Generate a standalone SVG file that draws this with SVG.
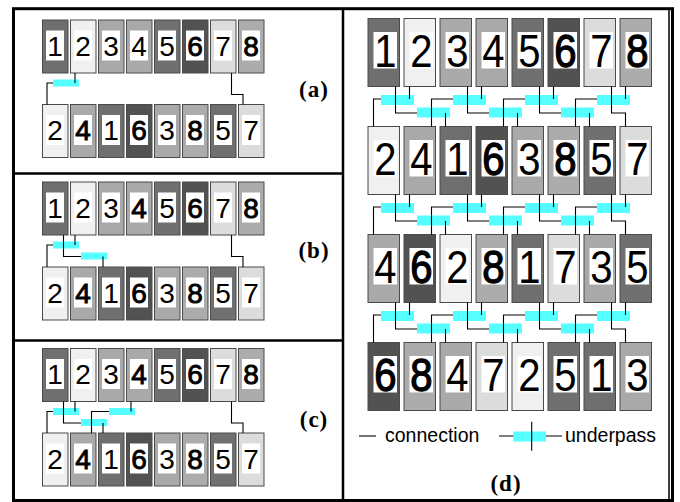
<svg xmlns="http://www.w3.org/2000/svg" width="680" height="502" viewBox="0 0 680 502">
<style>
.tile{stroke:#4a4a4a;stroke-width:1}
.k1{fill:#6f6f6f}.k2{fill:#f0f0f0}.k3{fill:#a9a9a9}.k4{fill:#a9a9a9}
.k5{fill:#707070}.k6{fill:#525252}.k7{fill:#dcdcdc}.k8{fill:#acacac}
.wb{fill:#ffffff}
.ds{font-family:"Liberation Sans",Arial,sans-serif;font-size:28px;text-anchor:middle;fill:#000}
.dl{font-family:"Liberation Sans",Arial,sans-serif;font-size:46px;text-anchor:middle;fill:#000}
.ds.b{stroke:#000;stroke-width:0.9}
.dl.b{stroke:#000;stroke-width:1.3}
.cn{fill:none;stroke:#000;stroke-width:1.1}
.cy{fill:#55ffff}
.lab{font-family:"Liberation Serif","Times New Roman",serif;font-weight:bold;font-size:23px;text-anchor:middle;letter-spacing:1px}
.leg{font-family:"Liberation Sans",Arial,sans-serif;font-size:19.5px;fill:#000}
.frame{fill:none;stroke:#000}
</style>

<g id="frame">
<rect class="frame" x="13.5" y="8.7" width="659" height="491.8" stroke-width="3"/>
<line class="frame" x1="669" y1="10" x2="669" y2="499" stroke-width="1.5"/>
<line class="frame" x1="343" y1="8.7" x2="343" y2="500.5" stroke-width="2.5"/>
<line class="frame" x1="13.5" y1="173.5" x2="343" y2="173.5" stroke-width="2.5"/>
<line class="frame" x1="13.5" y1="340.5" x2="343" y2="340.5" stroke-width="2.5"/>
</g>

<!-- panel (a) -->
<g id="a-top-1"><rect class="tile k1" x="42.5" y="20" width="25.5" height="53"/><rect class="wb" x="46" y="30.5" width="18" height="30"/><text class="ds" x="55" y="55.5">1</text></g>
<g id="a-top-2"><rect class="tile k2" x="70.5" y="20" width="25.5" height="53"/><rect class="wb" x="74" y="30.5" width="18" height="30"/><text class="ds" x="83" y="55.5">2</text></g>
<g id="a-top-3"><rect class="tile k3" x="98.5" y="20" width="25.5" height="53"/><rect class="wb" x="102" y="30.5" width="18" height="30"/><text class="ds" x="111" y="55.5">3</text></g>
<g id="a-top-4"><rect class="tile k4" x="126.5" y="20" width="25.5" height="53"/><rect class="wb" x="130" y="30.5" width="18" height="30"/><text class="ds" x="139" y="55.5">4</text></g>
<g id="a-top-5"><rect class="tile k5" x="154.5" y="20" width="25.5" height="53"/><rect class="wb" x="158" y="30.5" width="18" height="30"/><text class="ds" x="167" y="55.5">5</text></g>
<g id="a-top-6"><rect class="tile k6" x="182.5" y="20" width="25.5" height="53"/><rect class="wb" x="186" y="30.5" width="18" height="30"/><text class="ds b" x="195" y="55.5">6</text></g>
<g id="a-top-7"><rect class="tile k7" x="210.5" y="20" width="25.5" height="53"/><rect class="wb" x="214" y="30.5" width="18" height="30"/><text class="ds" x="223" y="55.5">7</text></g>
<g id="a-top-8"><rect class="tile k8" x="238.5" y="20" width="25.5" height="53"/><rect class="wb" x="242" y="30.5" width="18" height="30"/><text class="ds b" x="251" y="55.5">8</text></g>

<g id="a-bot-2"><rect class="tile k2" x="42.5" y="104.5" width="25.5" height="53"/><rect class="wb" x="46" y="115" width="18" height="30"/><text class="ds" x="55" y="140">2</text></g>
<g id="a-bot-4"><rect class="tile k4" x="70.5" y="104.5" width="25.5" height="53"/><rect class="wb" x="74" y="115" width="18" height="30"/><text class="ds b" x="83" y="140">4</text></g>
<g id="a-bot-1"><rect class="tile k1" x="98.5" y="104.5" width="25.5" height="53"/><rect class="wb" x="102" y="115" width="18" height="30"/><text class="ds" x="111" y="140">1</text></g>
<g id="a-bot-6"><rect class="tile k6" x="126.5" y="104.5" width="25.5" height="53"/><rect class="wb" x="130" y="115" width="18" height="30"/><text class="ds b" x="139" y="140">6</text></g>
<g id="a-bot-3"><rect class="tile k3" x="154.5" y="104.5" width="25.5" height="53"/><rect class="wb" x="158" y="115" width="18" height="30"/><text class="ds" x="167" y="140">3</text></g>
<g id="a-bot-8"><rect class="tile k8" x="182.5" y="104.5" width="25.5" height="53"/><rect class="wb" x="186" y="115" width="18" height="30"/><text class="ds b" x="195" y="140">8</text></g>
<g id="a-bot-5"><rect class="tile k5" x="210.5" y="104.5" width="25.5" height="53"/><rect class="wb" x="214" y="115" width="18" height="30"/><text class="ds" x="223" y="140">5</text></g>
<g id="a-bot-7"><rect class="tile k7" x="238.5" y="104.5" width="25.5" height="53"/><rect class="wb" x="242" y="115" width="18" height="30"/><text class="ds" x="251" y="140">7</text></g>
<text id="label-a" class="lab" x="314" y="97">(a)</text>

<!-- panel (b) -->
<g id="b-top-1"><rect class="tile k1" x="42.5" y="182" width="25.5" height="53"/><rect class="wb" x="46" y="192.5" width="18" height="30"/><text class="ds" x="55" y="217.5">1</text></g>
<g id="b-top-2"><rect class="tile k2" x="70.5" y="182" width="25.5" height="53"/><rect class="wb" x="74" y="192.5" width="18" height="30"/><text class="ds" x="83" y="217.5">2</text></g>
<g id="b-top-3"><rect class="tile k3" x="98.5" y="182" width="25.5" height="53"/><rect class="wb" x="102" y="192.5" width="18" height="30"/><text class="ds" x="111" y="217.5">3</text></g>
<g id="b-top-4"><rect class="tile k4" x="126.5" y="182" width="25.5" height="53"/><rect class="wb" x="130" y="192.5" width="18" height="30"/><text class="ds b" x="139" y="217.5">4</text></g>
<g id="b-top-5"><rect class="tile k5" x="154.5" y="182" width="25.5" height="53"/><rect class="wb" x="158" y="192.5" width="18" height="30"/><text class="ds" x="167" y="217.5">5</text></g>
<g id="b-top-6"><rect class="tile k6" x="182.5" y="182" width="25.5" height="53"/><rect class="wb" x="186" y="192.5" width="18" height="30"/><text class="ds b" x="195" y="217.5">6</text></g>
<g id="b-top-7"><rect class="tile k7" x="210.5" y="182" width="25.5" height="53"/><rect class="wb" x="214" y="192.5" width="18" height="30"/><text class="ds" x="223" y="217.5">7</text></g>
<g id="b-top-8"><rect class="tile k8" x="238.5" y="182" width="25.5" height="53"/><rect class="wb" x="242" y="192.5" width="18" height="30"/><text class="ds b" x="251" y="217.5">8</text></g>

<g id="b-bot-2"><rect class="tile k2" x="42.5" y="267" width="25.5" height="53"/><rect class="wb" x="46" y="277.5" width="18" height="30"/><text class="ds" x="55" y="302.5">2</text></g>
<g id="b-bot-4"><rect class="tile k4" x="70.5" y="267" width="25.5" height="53"/><rect class="wb" x="74" y="277.5" width="18" height="30"/><text class="ds b" x="83" y="302.5">4</text></g>
<g id="b-bot-1"><rect class="tile k1" x="98.5" y="267" width="25.5" height="53"/><rect class="wb" x="102" y="277.5" width="18" height="30"/><text class="ds" x="111" y="302.5">1</text></g>
<g id="b-bot-6"><rect class="tile k6" x="126.5" y="267" width="25.5" height="53"/><rect class="wb" x="130" y="277.5" width="18" height="30"/><text class="ds b" x="139" y="302.5">6</text></g>
<g id="b-bot-3"><rect class="tile k3" x="154.5" y="267" width="25.5" height="53"/><rect class="wb" x="158" y="277.5" width="18" height="30"/><text class="ds" x="167" y="302.5">3</text></g>
<g id="b-bot-8"><rect class="tile k8" x="182.5" y="267" width="25.5" height="53"/><rect class="wb" x="186" y="277.5" width="18" height="30"/><text class="ds b" x="195" y="302.5">8</text></g>
<g id="b-bot-5"><rect class="tile k5" x="210.5" y="267" width="25.5" height="53"/><rect class="wb" x="214" y="277.5" width="18" height="30"/><text class="ds" x="223" y="302.5">5</text></g>
<g id="b-bot-7"><rect class="tile k7" x="238.5" y="267" width="25.5" height="53"/><rect class="wb" x="242" y="277.5" width="18" height="30"/><text class="ds" x="251" y="302.5">7</text></g>
<text id="label-b" class="lab" x="314" y="258">(b)</text>

<!-- panel (c) -->
<g id="c-top-1"><rect class="tile k1" x="42.5" y="348.5" width="25.5" height="53"/><rect class="wb" x="46" y="359" width="18" height="30"/><text class="ds" x="55" y="384">1</text></g>
<g id="c-top-2"><rect class="tile k2" x="70.5" y="348.5" width="25.5" height="53"/><rect class="wb" x="74" y="359" width="18" height="30"/><text class="ds" x="83" y="384">2</text></g>
<g id="c-top-3"><rect class="tile k3" x="98.5" y="348.5" width="25.5" height="53"/><rect class="wb" x="102" y="359" width="18" height="30"/><text class="ds" x="111" y="384">3</text></g>
<g id="c-top-4"><rect class="tile k4" x="126.5" y="348.5" width="25.5" height="53"/><rect class="wb" x="130" y="359" width="18" height="30"/><text class="ds b" x="139" y="384">4</text></g>
<g id="c-top-5"><rect class="tile k5" x="154.5" y="348.5" width="25.5" height="53"/><rect class="wb" x="158" y="359" width="18" height="30"/><text class="ds" x="167" y="384">5</text></g>
<g id="c-top-6"><rect class="tile k6" x="182.5" y="348.5" width="25.5" height="53"/><rect class="wb" x="186" y="359" width="18" height="30"/><text class="ds b" x="195" y="384">6</text></g>
<g id="c-top-7"><rect class="tile k7" x="210.5" y="348.5" width="25.5" height="53"/><rect class="wb" x="214" y="359" width="18" height="30"/><text class="ds" x="223" y="384">7</text></g>
<g id="c-top-8"><rect class="tile k8" x="238.5" y="348.5" width="25.5" height="53"/><rect class="wb" x="242" y="359" width="18" height="30"/><text class="ds b" x="251" y="384">8</text></g>

<g id="c-bot-2"><rect class="tile k2" x="42.5" y="433" width="25.5" height="53"/><rect class="wb" x="46" y="443.5" width="18" height="30"/><text class="ds" x="55" y="468.5">2</text></g>
<g id="c-bot-4"><rect class="tile k4" x="70.5" y="433" width="25.5" height="53"/><rect class="wb" x="74" y="443.5" width="18" height="30"/><text class="ds b" x="83" y="468.5">4</text></g>
<g id="c-bot-1"><rect class="tile k1" x="98.5" y="433" width="25.5" height="53"/><rect class="wb" x="102" y="443.5" width="18" height="30"/><text class="ds" x="111" y="468.5">1</text></g>
<g id="c-bot-6"><rect class="tile k6" x="126.5" y="433" width="25.5" height="53"/><rect class="wb" x="130" y="443.5" width="18" height="30"/><text class="ds b" x="139" y="468.5">6</text></g>
<g id="c-bot-3"><rect class="tile k3" x="154.5" y="433" width="25.5" height="53"/><rect class="wb" x="158" y="443.5" width="18" height="30"/><text class="ds" x="167" y="468.5">3</text></g>
<g id="c-bot-8"><rect class="tile k8" x="182.5" y="433" width="25.5" height="53"/><rect class="wb" x="186" y="443.5" width="18" height="30"/><text class="ds b" x="195" y="468.5">8</text></g>
<g id="c-bot-5"><rect class="tile k5" x="210.5" y="433" width="25.5" height="53"/><rect class="wb" x="214" y="443.5" width="18" height="30"/><text class="ds" x="223" y="468.5">5</text></g>
<g id="c-bot-7"><rect class="tile k7" x="238.5" y="433" width="25.5" height="53"/><rect class="wb" x="242" y="443.5" width="18" height="30"/><text class="ds" x="251" y="468.5">7</text></g>
<text id="label-c" class="lab" x="314" y="427">(c)</text>

<!-- panel (d) -->
<g id="d-r0-1"><rect class="tile k1" x="368" y="18.5" width="31.5" height="68"/><rect class="wb" x="373.5" y="32" width="23.5" height="36.5"/><text class="dl" transform="translate(385.25 66.5) scale(0.87 1)">1</text></g>
<g id="d-r0-2"><rect class="tile k2" x="404" y="18.5" width="31.5" height="68"/><rect class="wb" x="409.5" y="32" width="23.5" height="36.5"/><text class="dl" transform="translate(421.25 66.5) scale(0.87 1)">2</text></g>
<g id="d-r0-3"><rect class="tile k3" x="440" y="18.5" width="31.5" height="68"/><rect class="wb" x="445.5" y="32" width="23.5" height="36.5"/><text class="dl" transform="translate(457.25 66.5) scale(0.87 1)">3</text></g>
<g id="d-r0-4"><rect class="tile k4" x="476" y="18.5" width="31.5" height="68"/><rect class="wb" x="481.5" y="32" width="23.5" height="36.5"/><text class="dl" transform="translate(493.25 66.5) scale(0.87 1)">4</text></g>
<g id="d-r0-5"><rect class="tile k5" x="512" y="18.5" width="31.5" height="68"/><rect class="wb" x="517.5" y="32" width="23.5" height="36.5"/><text class="dl" transform="translate(529.25 66.5) scale(0.87 1)">5</text></g>
<g id="d-r0-6"><rect class="tile k6" x="548" y="18.5" width="31.5" height="68"/><rect class="wb" x="553.5" y="32" width="23.5" height="36.5"/><text class="dl b" transform="translate(565.25 66.5) scale(0.87 1)">6</text></g>
<g id="d-r0-7"><rect class="tile k7" x="584" y="18.5" width="31.5" height="68"/><rect class="wb" x="589.5" y="32" width="23.5" height="36.5"/><text class="dl" transform="translate(601.25 66.5) scale(0.87 1)">7</text></g>
<g id="d-r0-8"><rect class="tile k8" x="620" y="18.5" width="31.5" height="68"/><rect class="wb" x="625.5" y="32" width="23.5" height="36.5"/><text class="dl b" transform="translate(637.25 66.5) scale(0.87 1)">8</text></g>

<g id="d-r1-2"><rect class="tile k2" x="368" y="126.5" width="31.5" height="68"/><rect class="wb" x="373.5" y="140" width="23.5" height="36.5"/><text class="dl" transform="translate(385.25 174.5) scale(0.87 1)">2</text></g>
<g id="d-r1-4"><rect class="tile k4" x="404" y="126.5" width="31.5" height="68"/><rect class="wb" x="409.5" y="140" width="23.5" height="36.5"/><text class="dl" transform="translate(421.25 174.5) scale(0.87 1)">4</text></g>
<g id="d-r1-1"><rect class="tile k1" x="440" y="126.5" width="31.5" height="68"/><rect class="wb" x="445.5" y="140" width="23.5" height="36.5"/><text class="dl" transform="translate(457.25 174.5) scale(0.87 1)">1</text></g>
<g id="d-r1-6"><rect class="tile k6" x="476" y="126.5" width="31.5" height="68"/><rect class="wb" x="481.5" y="140" width="23.5" height="36.5"/><text class="dl b" transform="translate(493.25 174.5) scale(0.87 1)">6</text></g>
<g id="d-r1-3"><rect class="tile k3" x="512" y="126.5" width="31.5" height="68"/><rect class="wb" x="517.5" y="140" width="23.5" height="36.5"/><text class="dl" transform="translate(529.25 174.5) scale(0.87 1)">3</text></g>
<g id="d-r1-8"><rect class="tile k8" x="548" y="126.5" width="31.5" height="68"/><rect class="wb" x="553.5" y="140" width="23.5" height="36.5"/><text class="dl b" transform="translate(565.25 174.5) scale(0.87 1)">8</text></g>
<g id="d-r1-5"><rect class="tile k5" x="584" y="126.5" width="31.5" height="68"/><rect class="wb" x="589.5" y="140" width="23.5" height="36.5"/><text class="dl" transform="translate(601.25 174.5) scale(0.87 1)">5</text></g>
<g id="d-r1-7"><rect class="tile k7" x="620" y="126.5" width="31.5" height="68"/><rect class="wb" x="625.5" y="140" width="23.5" height="36.5"/><text class="dl" transform="translate(637.25 174.5) scale(0.87 1)">7</text></g>

<g id="d-r2-4"><rect class="tile k4" x="368" y="234.5" width="31.5" height="68"/><rect class="wb" x="373.5" y="248" width="23.5" height="36.5"/><text class="dl" transform="translate(385.25 282.5) scale(0.87 1)">4</text></g>
<g id="d-r2-6"><rect class="tile k6" x="404" y="234.5" width="31.5" height="68"/><rect class="wb" x="409.5" y="248" width="23.5" height="36.5"/><text class="dl b" transform="translate(421.25 282.5) scale(0.87 1)">6</text></g>
<g id="d-r2-2"><rect class="tile k2" x="440" y="234.5" width="31.5" height="68"/><rect class="wb" x="445.5" y="248" width="23.5" height="36.5"/><text class="dl" transform="translate(457.25 282.5) scale(0.87 1)">2</text></g>
<g id="d-r2-8"><rect class="tile k8" x="476" y="234.5" width="31.5" height="68"/><rect class="wb" x="481.5" y="248" width="23.5" height="36.5"/><text class="dl b" transform="translate(493.25 282.5) scale(0.87 1)">8</text></g>
<g id="d-r2-1"><rect class="tile k1" x="512" y="234.5" width="31.5" height="68"/><rect class="wb" x="517.5" y="248" width="23.5" height="36.5"/><text class="dl" transform="translate(529.25 282.5) scale(0.87 1)">1</text></g>
<g id="d-r2-7"><rect class="tile k7" x="548" y="234.5" width="31.5" height="68"/><rect class="wb" x="553.5" y="248" width="23.5" height="36.5"/><text class="dl" transform="translate(565.25 282.5) scale(0.87 1)">7</text></g>
<g id="d-r2-3"><rect class="tile k3" x="584" y="234.5" width="31.5" height="68"/><rect class="wb" x="589.5" y="248" width="23.5" height="36.5"/><text class="dl" transform="translate(601.25 282.5) scale(0.87 1)">3</text></g>
<g id="d-r2-5"><rect class="tile k5" x="620" y="234.5" width="31.5" height="68"/><rect class="wb" x="625.5" y="248" width="23.5" height="36.5"/><text class="dl" transform="translate(637.25 282.5) scale(0.87 1)">5</text></g>

<g id="d-r3-6"><rect class="tile k6" x="368" y="342.5" width="31.5" height="68"/><rect class="wb" x="373.5" y="356" width="23.5" height="36.5"/><text class="dl b" transform="translate(385.25 390.5) scale(0.87 1)">6</text></g>
<g id="d-r3-8"><rect class="tile k8" x="404" y="342.5" width="31.5" height="68"/><rect class="wb" x="409.5" y="356" width="23.5" height="36.5"/><text class="dl b" transform="translate(421.25 390.5) scale(0.87 1)">8</text></g>
<g id="d-r3-4"><rect class="tile k4" x="440" y="342.5" width="31.5" height="68"/><rect class="wb" x="445.5" y="356" width="23.5" height="36.5"/><text class="dl" transform="translate(457.25 390.5) scale(0.87 1)">4</text></g>
<g id="d-r3-7"><rect class="tile k7" x="476" y="342.5" width="31.5" height="68"/><rect class="wb" x="481.5" y="356" width="23.5" height="36.5"/><text class="dl" transform="translate(493.25 390.5) scale(0.87 1)">7</text></g>
<g id="d-r3-2"><rect class="tile k2" x="512" y="342.5" width="31.5" height="68"/><rect class="wb" x="517.5" y="356" width="23.5" height="36.5"/><text class="dl" transform="translate(529.25 390.5) scale(0.87 1)">2</text></g>
<g id="d-r3-5"><rect class="tile k5" x="548" y="342.5" width="31.5" height="68"/><rect class="wb" x="553.5" y="356" width="23.5" height="36.5"/><text class="dl" transform="translate(565.25 390.5) scale(0.87 1)">5</text></g>
<g id="d-r3-1"><rect class="tile k1" x="584" y="342.5" width="31.5" height="68"/><rect class="wb" x="589.5" y="356" width="23.5" height="36.5"/><text class="dl" transform="translate(601.25 390.5) scale(0.87 1)">1</text></g>
<g id="d-r3-3"><rect class="tile k3" x="620" y="342.5" width="31.5" height="68"/><rect class="wb" x="625.5" y="356" width="23.5" height="36.5"/><text class="dl" transform="translate(637.25 390.5) scale(0.87 1)">3</text></g>
<text id="label-d" class="lab" x="506" y="491">(d)</text>

<!-- connectors -->
<g id="connectors">
<path class="cn" d="M75 73V83H47V104.5 M231.5 73V94.5H243V104.5"/>
<path class="cn" d="M75 235V245H47V267 M63.5 235V256.5H103V267 M231.5 235V256.5H243V267"/>
<path class="cn" d="M75 401.5V411.5H47V433 M63.5 401.5V423H103V433 M131 401.5V411.5H91.5V433 M231.5 401.5V423H243V433"/>
<path class="cn" d="M395.5 86.5V113H445.5V126.5 M409.5 86.5V99H373.5V126.5 M467.5 86.5V113H517.5V126.5 M481.5 86.5V99H431.5V126.5 M539.5 86.5V113H589.5V126.5 M553.5 86.5V99H503.5V126.5 M611.5 86.5V113H625.5V126.5 M625.5 86.5V99H575.5V126.5"/>
<path class="cn" d="M395.5 194.5V221H445.5V234.5 M409.5 194.5V207H373.5V234.5 M467.5 194.5V221H517.5V234.5 M481.5 194.5V207H431.5V234.5 M539.5 194.5V221H589.5V234.5 M553.5 194.5V207H503.5V234.5 M611.5 194.5V221H625.5V234.5 M625.5 194.5V207H575.5V234.5"/>
<path class="cn" d="M395.5 302.5V329H445.5V342.5 M409.5 302.5V315H373.5V342.5 M467.5 302.5V329H517.5V342.5 M481.5 302.5V315H431.5V342.5 M539.5 302.5V329H589.5V342.5 M553.5 302.5V315H503.5V342.5 M611.5 302.5V329H625.5V342.5 M625.5 302.5V315H575.5V342.5"/>
</g>

<!-- underpasses -->
<g id="underpasses">
<rect class="cy" x="53" y="79.5" width="26" height="7"/>
<path class="cn" d="M75 79.5V83"/>
<rect class="cy" x="53" y="241.5" width="26" height="7"/>
<rect class="cy" x="81" y="252.5" width="26" height="7"/>
<path class="cn" d="M63.5 241.5V248.5 M75 241.5V245 M103 256.5V259.5"/>
<rect class="cy" x="53" y="408" width="26" height="7"/>
<rect class="cy" x="109" y="408" width="26" height="7"/>
<rect class="cy" x="81" y="419" width="26" height="7"/>
<path class="cn" d="M63.5 408V415 M75 408V411.5 M131 408V411.5 M91.5 419V426 M103 423V426"/>

<rect class="cy" x="381" y="95" width="33" height="10"/><rect class="cy" x="453" y="95" width="33" height="10"/><rect class="cy" x="525" y="95" width="33" height="10"/><rect class="cy" x="597" y="95" width="33" height="10"/>
<rect class="cy" x="417" y="107.5" width="33" height="10"/><rect class="cy" x="489" y="107.5" width="33" height="10"/><rect class="cy" x="561" y="107.5" width="33" height="10"/>
<path class="cn" d="M395.5 95V105 M467.5 95V105 M539.5 95V105 M611.5 95V105 M409.5 95V99 M481.5 95V99 M553.5 95V99 M625.5 95V99 M431.5 107.5V117.5 M503.5 107.5V117.5 M575.5 107.5V117.5 M445.5 113V117.5 M517.5 113V117.5 M589.5 113V117.5"/>

<rect class="cy" x="381" y="203" width="33" height="10"/><rect class="cy" x="453" y="203" width="33" height="10"/><rect class="cy" x="525" y="203" width="33" height="10"/><rect class="cy" x="597" y="203" width="33" height="10"/>
<rect class="cy" x="417" y="215.5" width="33" height="10"/><rect class="cy" x="489" y="215.5" width="33" height="10"/><rect class="cy" x="561" y="215.5" width="33" height="10"/>
<path class="cn" d="M395.5 203V213 M467.5 203V213 M539.5 203V213 M611.5 203V213 M409.5 203V207 M481.5 203V207 M553.5 203V207 M625.5 203V207 M431.5 215.5V225.5 M503.5 215.5V225.5 M575.5 215.5V225.5 M445.5 221V225.5 M517.5 221V225.5 M589.5 221V225.5"/>

<rect class="cy" x="381" y="311" width="33" height="10"/><rect class="cy" x="453" y="311" width="33" height="10"/><rect class="cy" x="525" y="311" width="33" height="10"/><rect class="cy" x="597" y="311" width="33" height="10"/>
<rect class="cy" x="417" y="323.5" width="33" height="10"/><rect class="cy" x="489" y="323.5" width="33" height="10"/><rect class="cy" x="561" y="323.5" width="33" height="10"/>
<path class="cn" d="M395.5 311V321 M467.5 311V321 M539.5 311V321 M611.5 311V321 M409.5 311V315 M481.5 311V315 M553.5 311V315 M625.5 311V315 M431.5 323.5V333.5 M503.5 323.5V333.5 M575.5 323.5V333.5 M445.5 329V333.5 M517.5 329V333.5 M589.5 329V333.5"/>
</g>

<!-- legend -->
<g id="legend">
<path class="cn" d="M359 436H376"/>
<text class="leg" x="385" y="442">connection</text>
<path class="cn" d="M499 436H562"/>
<rect class="cy" x="513.3" y="431.5" width="32.7" height="10"/>
<path class="cn" d="M531.7 421.7V450.7"/>
<text class="leg" x="565" y="442">underpass</text>
</g>
</svg>
